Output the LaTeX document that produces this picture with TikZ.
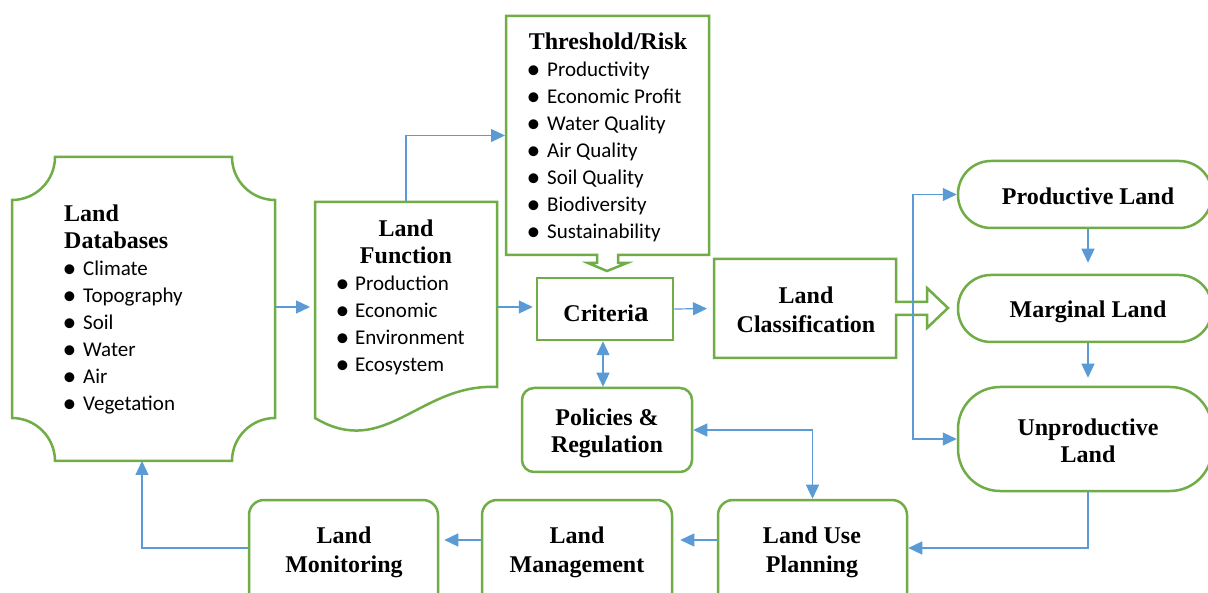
\documentclass[tikz,border=0pt]{standalone}
\usepackage{fontspec}
\setmainfont{Liberation Serif}
\newfontfamily\bulletfont{Carlito}
\usetikzlibrary{arrows.meta,calc}
\definecolor{grn}{RGB}{112,173,71}
\definecolor{blu}{RGB}{91,155,213}
\newcommand\bu[2][19pt]{\makebox[#1][l]{\hspace*{-1.5pt}\raisebox{-1.8pt}{\scalebox{1.32}{\textbullet}}}#2}
\newcommand\ttl[2][28]{\parbox[t]{260pt}{\centering\fontsize{24}{#1}\selectfont\bfseries #2}}
\newcommand\lst[1]{\parbox[t]{240pt}{\raggedright\bulletfont\fontsize{21}{27}\selectfont #1}}
\begin{document}
\begin{tikzpicture}[x=1pt,y=-1pt,
  shp/.style={draw=grn,line width=2.5pt},
  frm/.style={draw=none,inner sep=0pt,outer sep=0pt},
  txt/.style={inner sep=0pt,anchor=base},
  lstn/.style={inner sep=0pt,anchor=base west},
  arr/.style={draw=blu,line width=1.2pt,-{Triangle[length=14pt,width=13pt]}},
  darr/.style={draw=blu,line width=1.2pt,{Triangle[length=14pt,width=13pt]}-{Triangle[length=14pt,width=13pt]}}]
\useasboundingbox (0,0) rectangle (1208,593);
\clip (0,0) rectangle (1208,593);
\fill[white] (0,0) rectangle (1208,593);

% Land Databases (plaque)
\node[frm,minimum width=263pt,minimum height=304pt] (db) at (143.5,309) {};
\draw[shp] (55,157) -- (232,157) .. controls (232,180.7) and (251.3,200) .. (275,200)
  -- (275,418) .. controls (251.3,418) and (232,437.3) .. (232,461)
  -- (55,461) .. controls (55,437.3) and (35.7,418) .. (12,418)
  -- (12,200) .. controls (35.7,200) and (55,180.7) .. (55,157) -- cycle;
\node[lstn] (dbt) at (64,222) {\parbox[t]{200pt}{\raggedright\fontsize{24}{27}\selectfont\bfseries Land\\Databases\\
  \mdseries\bulletfont\fontsize{21}{27}\selectfont \bu{Climate}\\\bu{Topography}\\\bu{Soil}\\\bu{Water}\\\bu{Air}\\\bu{Vegetation}}};

% Land Function (document)
\node[frm,minimum width=182pt,minimum height=216pt] (func) at (406,310) {};
\draw[shp] (315,202) -- (497,202) -- (497,387) .. controls (420,383) and (385,460) .. (315,418) -- cycle;
\node[txt] (funct) at (406,237) {\ttl[27]{Land\\Function}};
\node[lstn] (funcl) at (337,291) {\lst{\bu[18pt]{Production}\\\bu[18pt]{Economic}\\\bu[18pt]{Environment}\\\bu[18pt]{Ecosystem}}};

% Threshold/Risk (down callout)
\node[frm,minimum width=203pt,minimum height=239pt] (thr) at (607.5,135.5) {};
\draw[shp] (506,16) -- (709,16) -- (709,255) -- (618,255) -- (618,263) -- (627,263) -- (607,271)
  -- (588,263) -- (597,263) -- (597,255) -- (506,255) -- cycle;
\node[txt] (thrt) at (608,50) {\ttl{Threshold/Risk}};
\node[lstn] (thrl) at (528,77) {\lst{\bu{Productivity}\\\bu{Economic Profit}\\\bu{Water Quality}\\\bu{Air Quality}\\\bu{Soil Quality}\\\bu{Biodiversity}\\\bu{Sustainability}}};

% Criteria
\node[shp,minimum width=136pt,minimum height=62pt] (crit) at (605,309) {};
\node[txt] (critt) at (606,322) {\ttl{Criteri{\fontsize{29}{29}\selectfont a}}};

% Land Classification (right arrow callout)
\node[frm,minimum width=182pt,minimum height=99pt] (cls) at (805,308.5) {};
\draw[shp] (714,259) -- (896,259) -- (896,302) -- (927,302) -- (927,288) -- (948,308) -- (927,328)
  -- (927,315) -- (896,315) -- (896,358) -- (714,358) -- cycle;
\node[txt] (clst) at (806,304) {\ttl[29]{Land\\Classification}};

% Policies & Regulation
\node[shp,rounded corners=12pt,minimum width=170pt,minimum height=84pt] (pol) at (607,430) {};
\node[txt] (polt) at (607,426) {\ttl[27]{Policies \&\\Regulation}};

% Land classes
\node[shp,rounded corners=33pt,minimum width=254pt,minimum height=67pt] (prod) at (1085,194.5) {};
\node[txt] (prodt) at (1088,205) {\ttl{Productive Land}};
\node[shp,rounded corners=33pt,minimum width=254pt,minimum height=67pt] (marg) at (1085,308.5) {};
\node[txt] (margt) at (1088,318) {\ttl{Marginal Land}};
\node[shp,rounded corners=42pt,minimum width=254pt,minimum height=104pt] (unprod) at (1085,439) {};
\node[txt] (unprodt) at (1088,436) {\ttl[27]{Unproductive\\Land}};

% Bottom row
\node[shp,rounded corners=15pt,minimum width=189pt,minimum height=140pt] (lup) at (812.5,570) {};
\node[txt] (lupt) at (812,543) {\ttl[29]{Land Use\\Planning}};
\node[shp,rounded corners=15pt,minimum width=190pt,minimum height=140pt] (mgmt) at (577,570) {};
\node[txt] (mgmtt) at (577,543) {\ttl[29]{Land\\Management}};
\node[shp,rounded corners=15pt,minimum width=189pt,minimum height=140pt] (mon) at (343.5,570) {};
\node[txt] (mont) at (344,543) {\ttl[29]{Land\\Monitoring}};

% Connectors
\draw[arr,shorten >=5pt] (db.east |- 0,307) -- (func.west |- 0,307);
\draw[arr,shorten >=3pt] (func.east |- 0,307) -- (crit.west |- 0,307);
\draw[arr,shorten >=1pt] (func.north) |- (thr.west);
\draw[arr,shorten >=7pt] (crit.east) -- (cls.west);
\draw[darr] (crit.south -| 603,0) -- (pol.north -| 603,0);
\draw[darr] (pol.east) -| (lup.north);
\coordinate (split) at (913,308);
\draw[arr] (split) |- (prod.west);
\draw[arr] (split) |- (unprod.west);
\draw[arr,shorten >=11pt] (prod.south -| 1088,0) -- (marg.north -| 1088,0);
\draw[arr,shorten >=8pt] (marg.south -| 1088,0) -- (unprod.north -| 1088,0);
\draw[arr] (unprod.south -| 1088,0) |- (lup.east |- 0,548);
\draw[arr,shorten >=7pt] (lup.west |- 0,540) -- (mgmt.east |- 0,540);
\draw[arr,shorten >=5pt] (mgmt.west |- 0,540) -- (mon.east |- 0,540);
\draw[arr] (mon.west |- 0,548) -| (db.south -| 142,0);
\end{tikzpicture}
\end{document}
